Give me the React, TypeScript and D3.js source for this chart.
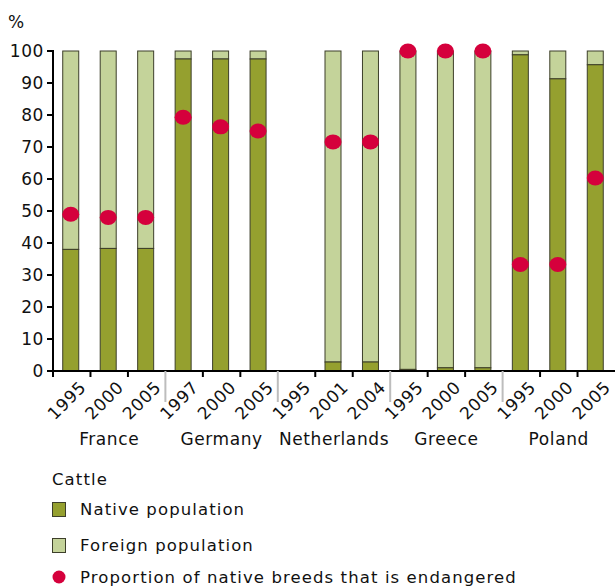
import React from "react";
import * as d3 from "d3";

// Country groups and survey years along the x axis
const countries = ["France", "Germany", "Netherlands", "Greece", "Poland"];
const years = [
  ["1995", "2000", "2005"],
  ["1997", "2000", "2005"],
  ["1995", "2001", "2004"],
  ["1995", "2000", "2005"],
  ["1995", "2000", "2005"],
];
// Share of native cattle population (%), null where no data
const nativeShare: (number | null)[] = [
  38, 38.3, 38.3,
  97.5, 97.5, 97.5,
  null, 2.8, 2.8,
  0.5, 1, 1,
  98.8, 91.3, 95.7,
];
// Proportion of native breeds that is endangered (%)
const endangered: (number | null)[] = [
  49, 48, 48,
  79.3, 76.3, 75,
  null, 71.6, 71.6,
  100, 100, 100,
  33.3, 33.3, 60.3,
];
const yTicks = [0, 10, 20, 30, 40, 50, 60, 70, 80, 90, 100];

const W = 616;
const H = 587;
const FONT = "'DejaVu Sans', Verdana, sans-serif";
const NATIVE = "#95a02f";
const FOREIGN = "#c4d39a";
const EDGE = "#3d3f2a";
const DOT = "#d5003c";

export default function App() {
  const left = 53;
  const right = 615;
  const top = 51;
  const bottom = 371;

  const slots = countries.flatMap((c, ci) => years[ci].map((y, yi) => `${ci}-${yi}`));
  const x = d3.scaleBand<string>().domain(slots).range([left, right]).paddingInner(0).paddingOuter(0);
  const y = d3.scaleLinear().domain([0, 100]).range([bottom, top]);
  const bw = 16;

  return (
    <svg width={W} height={H} style={{ position: "absolute", left: 0, top: 0, background: "#fff" }} fontFamily={FONT}>
      <text x={8} y={28} fontSize={17} fill="#111">%</text>

      {/* bars */}
      {slots.map((s, i) => {
        const n = nativeShare[i];
        if (n === null) return null;
        const cx = x(s)! + x.bandwidth() / 2 - 1;
        return (
          <g key={s}>
            <rect x={cx - bw / 2} y={y(100)} width={bw} height={y(n) - y(100)} fill={FOREIGN} stroke={EDGE} strokeWidth={1} />
            <rect x={cx - bw / 2} y={y(n)} width={bw} height={y(0) - y(n)} fill={NATIVE} stroke={EDGE} strokeWidth={1} />
          </g>
        );
      })}

      {/* endangered dots */}
      {slots.map((s, i) => {
        const v = endangered[i];
        if (v === null) return null;
        const cx = x(s)! + x.bandwidth() / 2 - 1;
        return <ellipse key={"d" + s} cx={cx} cy={y(v)} rx={8.5} ry={7.5} fill={DOT} />;
      })}

      {/* y axis */}
      <line x1={left} x2={left} y1={top - 1} y2={bottom + 1} stroke="#000" strokeWidth={2} />
      {yTicks.map((t) => (
        <g key={t}>
          <line x1={left - 6} x2={left} y1={y(t)} y2={y(t)} stroke="#000" strokeWidth={2} />
          <text x={left - 9} y={y(t)} dy="0.36em" textAnchor="end" fontSize={17} letterSpacing={0.6} fill="#111">{t}</text>
        </g>
      ))}

      {/* x axis */}
      <line x1={left} x2={right} y1={bottom} y2={bottom} stroke="#000" strokeWidth={2} />
      {slots.map((s, i) => {
        const bx = x(s)!;
        const groupStart = i % 3 === 0 && i > 0;
        return groupStart ? (
          <line key={"t" + s} x1={bx} x2={bx} y1={bottom} y2={bottom + 31} stroke="#bdbdbd" strokeWidth={2} />
        ) : (
          <line key={"t" + s} x1={bx} x2={bx} y1={bottom} y2={bottom + 6} stroke="#000" strokeWidth={2} />
        );
      })}
      {slots.map((s, i) => {
        const cx = x(s)! + x.bandwidth() / 2;
        const ci = Math.floor(i / 3);
        return (
          <text key={"l" + s} transform={`translate(${cx + 7},${bottom + 9}) rotate(-45)`} textAnchor="end" dy="0.7em" fontSize={17} letterSpacing={0.6} fill="#111">
            {years[ci][i % 3]}
          </text>
        );
      })}
      {countries.map((c, ci) => {
        const cx = x(`${ci}-1`)! + x.bandwidth() / 2;
        return (
          <text key={c} x={cx} y={445} textAnchor="middle" fontSize={17} letterSpacing={0.6} fill="#111">{c}</text>
        );
      })}

      {/* legend */}
      <g fontSize={16.5} letterSpacing={1.1} fill="#111">
        <text x={52} y={485}>Cattle</text>
        <rect x={52.5} y={502.5} width={13} height={14} fill={NATIVE} stroke={EDGE} />
        <text x={80} y={515}>Native population</text>
        <rect x={52.5} y={538.5} width={13} height={14} fill={FOREIGN} stroke={EDGE} />
        <text x={80} y={551}>Foreign population</text>
        <ellipse cx={59} cy={577} rx={6.5} ry={6.5} fill={DOT} />
        <text x={80} y={583}>Proportion of native breeds that is endangered</text>
      </g>
    </svg>
  );
}
